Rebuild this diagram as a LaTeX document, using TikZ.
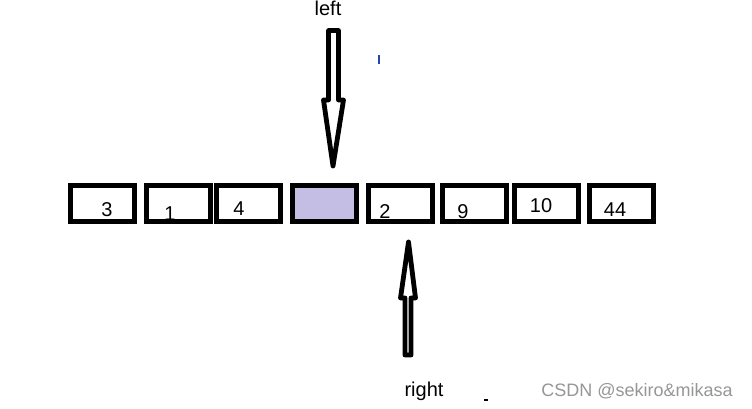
\documentclass[tikz,border=0pt]{standalone}
\usepackage{fontspec}
\setmainfont{Liberation Sans}
\definecolor{pivotfill}{RGB}{197,190,228}
\definecolor{markblue}{RGB}{40,70,170}
\definecolor{wmgray}{RGB}{150,150,150}
\usetikzlibrary{positioning}
\tikzset{
  cell/.style={rectangle,draw=black,line width=3.75pt,minimum width=48pt,
               minimum height=27pt,inner sep=0pt},
  num/.style={font=\fontsize{15}{18}\selectfont,inner sep=0pt},
  ptr/.style={draw=black,line width=3.6pt,line join=round,fill=white},
  ptrtext/.style={font=\fontsize{15}{18}\selectfont,inner sep=0pt},
}
\begin{document}
\begin{tikzpicture}[x=0.75pt,y=-0.75pt]
    \useasboundingbox (0,0) rectangle (752,409);

    % array cells
    \node[cell] (c1) at (102.5,203.5) {};
    \node[cell] (c2) at (178.5,203.5) {};
    \node[cell] (c3) at (248.0,203.5) {};
    \node[cell,fill=pivotfill] (c4) at (324.0,203.5) {};
    \node[cell] (c5) at (400.0,203.5) {};
    \node[cell] (c6) at (474.0,203.5) {};
    \node[cell] (c7) at (546.5,203.5) {};
    \node[cell] (c8) at (621.5,203.5) {};

    % values
    \node[num] (v1) at (107,210) {3};
    \node[num] (v2) at (170,214) {1};
    \node[num] (v3) at (239,209) {4};
    \node[num] (v5) at (385,212) {2};
    \node[num] (v6) at (463,212) {9};
    \node[num] (v7) at (541,206) {10};
    \node[num] (v8) at (615,210) {44};

    % left pointer
    \coordinate (ltip) at (333,166);
    \draw[ptr] (ltip) -- ++(10.5,-66) -- ++(-5,0) -- ++(0,-69.5)
      -- ++(-10,0) -- ++(0,69.5) -- ++(-5,0) -- cycle;
    \node[ptrtext] (lname) at (328,8) {left};

    % right pointer
    \coordinate (rtip) at (408.5,242);
    \draw[ptr] (rtip) -- ++(7,56) -- ++(-4.5,0) -- ++(0,57)
      -- ++(-6,0) -- ++(0,-57) -- ++(-4.5,0) -- cycle;
    \node[ptrtext] (rname) at (424,391) {right};

    % stray marks
    \draw[markblue,line width=1pt] (379,55) -- (379,64);
    \draw[black,line width=0.8pt] (484,400) -- (488,400);

    \node[font=\fontsize{13.5}{16}\selectfont,text=wmgray,inner sep=0pt]
      (wm) at (637,391) {CSDN @sekiro\&mikasa};
\end{tikzpicture}
\end{document}
